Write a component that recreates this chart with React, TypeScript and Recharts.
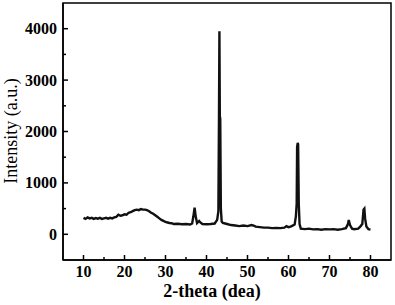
import React from "react";
import { LineChart, Line, XAxis, YAxis, ReferenceArea } from "recharts";

const twoTheta: number[] = [
  10, 10.5, 11, 11.5, 12, 12.5, 13, 13.5, 14, 14.5, 15, 15.5, 16, 16.5, 17, 17.5, 18, 18.5, 19, 19.5,
  20, 20.5, 21, 21.5, 22, 22.5, 23, 23.5, 24, 24.5, 25, 25.5, 26, 26.5, 27, 27.5, 28, 28.5, 29, 29.5,
  30, 30.5, 31, 31.5, 32, 33, 34, 35, 36, 36.5, 36.8, 37.1, 37.4, 37.7, 38.2, 38.5, 39, 40, 41, 42,
  42.6, 42.9, 43.05, 43.15, 43.25, 43.35, 43.5, 43.7, 44, 45, 46, 47, 48, 49, 50, 51, 51.5, 52, 53, 54,
  55, 56, 57, 58, 59, 59.5, 60, 60.5, 61, 61.5, 61.8, 62.0, 62.1, 62.25, 62.35, 62.5, 62.7, 63, 64, 65,
  66, 67, 68, 69, 70, 71, 72, 73, 74, 74.5, 74.7, 75, 75.5, 76, 77, 77.5, 78, 78.3, 78.5, 78.7,
  79, 79.5, 80,
];
const intensity: number[] = [
  320, 300, 330, 310, 320, 300, 315, 305, 320, 300, 310, 320, 305, 320, 310, 330, 340, 380, 360, 370,
  390, 380, 420, 430, 450, 470, 480, 470, 490, 480, 480, 470, 450, 420, 400, 370, 340, 310, 280, 260,
  240, 230, 220, 215, 200, 205, 195, 200, 190, 210, 350, 520, 330, 220, 260, 230, 200, 195, 200, 210,
  280, 450, 2350, 3950, 2300, 2250, 500, 250, 220, 200, 180, 170, 160, 170, 160, 180, 170, 150, 140, 130,
  130, 120, 125, 120, 130, 160, 140, 150, 170, 190, 350, 600, 1700, 1780, 1750, 600, 200, 110, 100, 110,
  95, 100, 90, 100, 95, 100, 90, 100, 120, 200, 280, 180, 110, 100, 110, 150, 200, 480, 500, 300,
  150, 100, 90,
];
const xTicks: number[] = [10, 15, 20, 25, 30, 35, 40, 45, 50, 55, 60, 65, 70, 75, 80];
const yTicks: number[] = [0, 500, 1000, 1500, 2000, 2500, 3000, 3500, 4000];

const data = twoTheta.map((t, i) => ({ t, v: intensity[i] }));

const FONT = "'Liberation Serif', 'DejaVu Serif', serif";

const XTick = (props: any) => {
  const { x, y, payload } = props;
  const major = payload.value % 10 === 0;
  return (
    <g>
      <line x1={x} y1={y} x2={x} y2={y - (major ? 5 : 3)} stroke="#000" strokeWidth={1.5} />
      {major && (
        <text x={x} y={y + 17} textAnchor="middle" fontFamily={FONT} fontWeight="bold" fontSize={16} fill="#000">
          {payload.value}
        </text>
      )}
    </g>
  );
};

const YTick = (props: any) => {
  const { x, y, payload } = props;
  const major = payload.value % 1000 === 0;
  return (
    <g>
      <line x1={x} y1={y} x2={x + (major ? 5 : 3)} y2={y} stroke="#000" strokeWidth={1.5} />
      {major && (
        <text x={x - 6} y={y + 5.5} textAnchor="end" fontFamily={FONT} fontWeight="bold" fontSize={16} fill="#000">
          {payload.value}
        </text>
      )}
    </g>
  );
};

const XLabel = () => (
  <text x={212} y={297} textAnchor="middle" fontFamily={FONT} fontWeight="bold" fontSize={18} fill="#000">
    2-theta (dea)
  </text>
);

const YLabel = () => (
  <text
    x={17}
    y={131}
    transform="rotate(-90 17 131)"
    textAnchor="middle"
    fontFamily={FONT}
    fontSize={18}
    fill="#000"
  >
    Intensity (a.u.)
  </text>
);

export default function App() {
  return (
    <div style={{ position: "absolute", left: 0, top: 0, width: 395, height: 305, background: "#fff" }}>
      <LineChart width={395} height={305} data={data} margin={{ top: 3, right: 4, bottom: 0, left: 0 }}>
        <XAxis
          dataKey="t"
          type="number"
          domain={[5, 85]}
          ticks={xTicks}
          interval={0}
          height={45}
          tickSize={0}
          tickMargin={0}
          tickLine={false}
          tick={<XTick />}
          axisLine={{ stroke: "#000", strokeWidth: 1.5 }}
          label={<XLabel />}
        />
        <YAxis
          type="number"
          domain={[-500, 4500]}
          ticks={yTicks}
          interval={0}
          width={63}
          allowDataOverflow
          tickSize={0}
          tickMargin={0}
          tickLine={false}
          tick={<YTick />}
          axisLine={{ stroke: "#000", strokeWidth: 1.5 }}
          label={<YLabel />}
        />
        <ReferenceArea
          x1={5}
          x2={85}
          y1={-500}
          y2={4500}
          fill="none"
          fillOpacity={0}
          stroke="#000"
          strokeWidth={1.5}
          ifOverflow="visible"
        />
        <Line
          dataKey="v"
          type="linear"
          stroke="#111"
          strokeWidth={2.4}
          dot={false}
          isAnimationActive={false}
        />
      </LineChart>
    </div>
  );
}
